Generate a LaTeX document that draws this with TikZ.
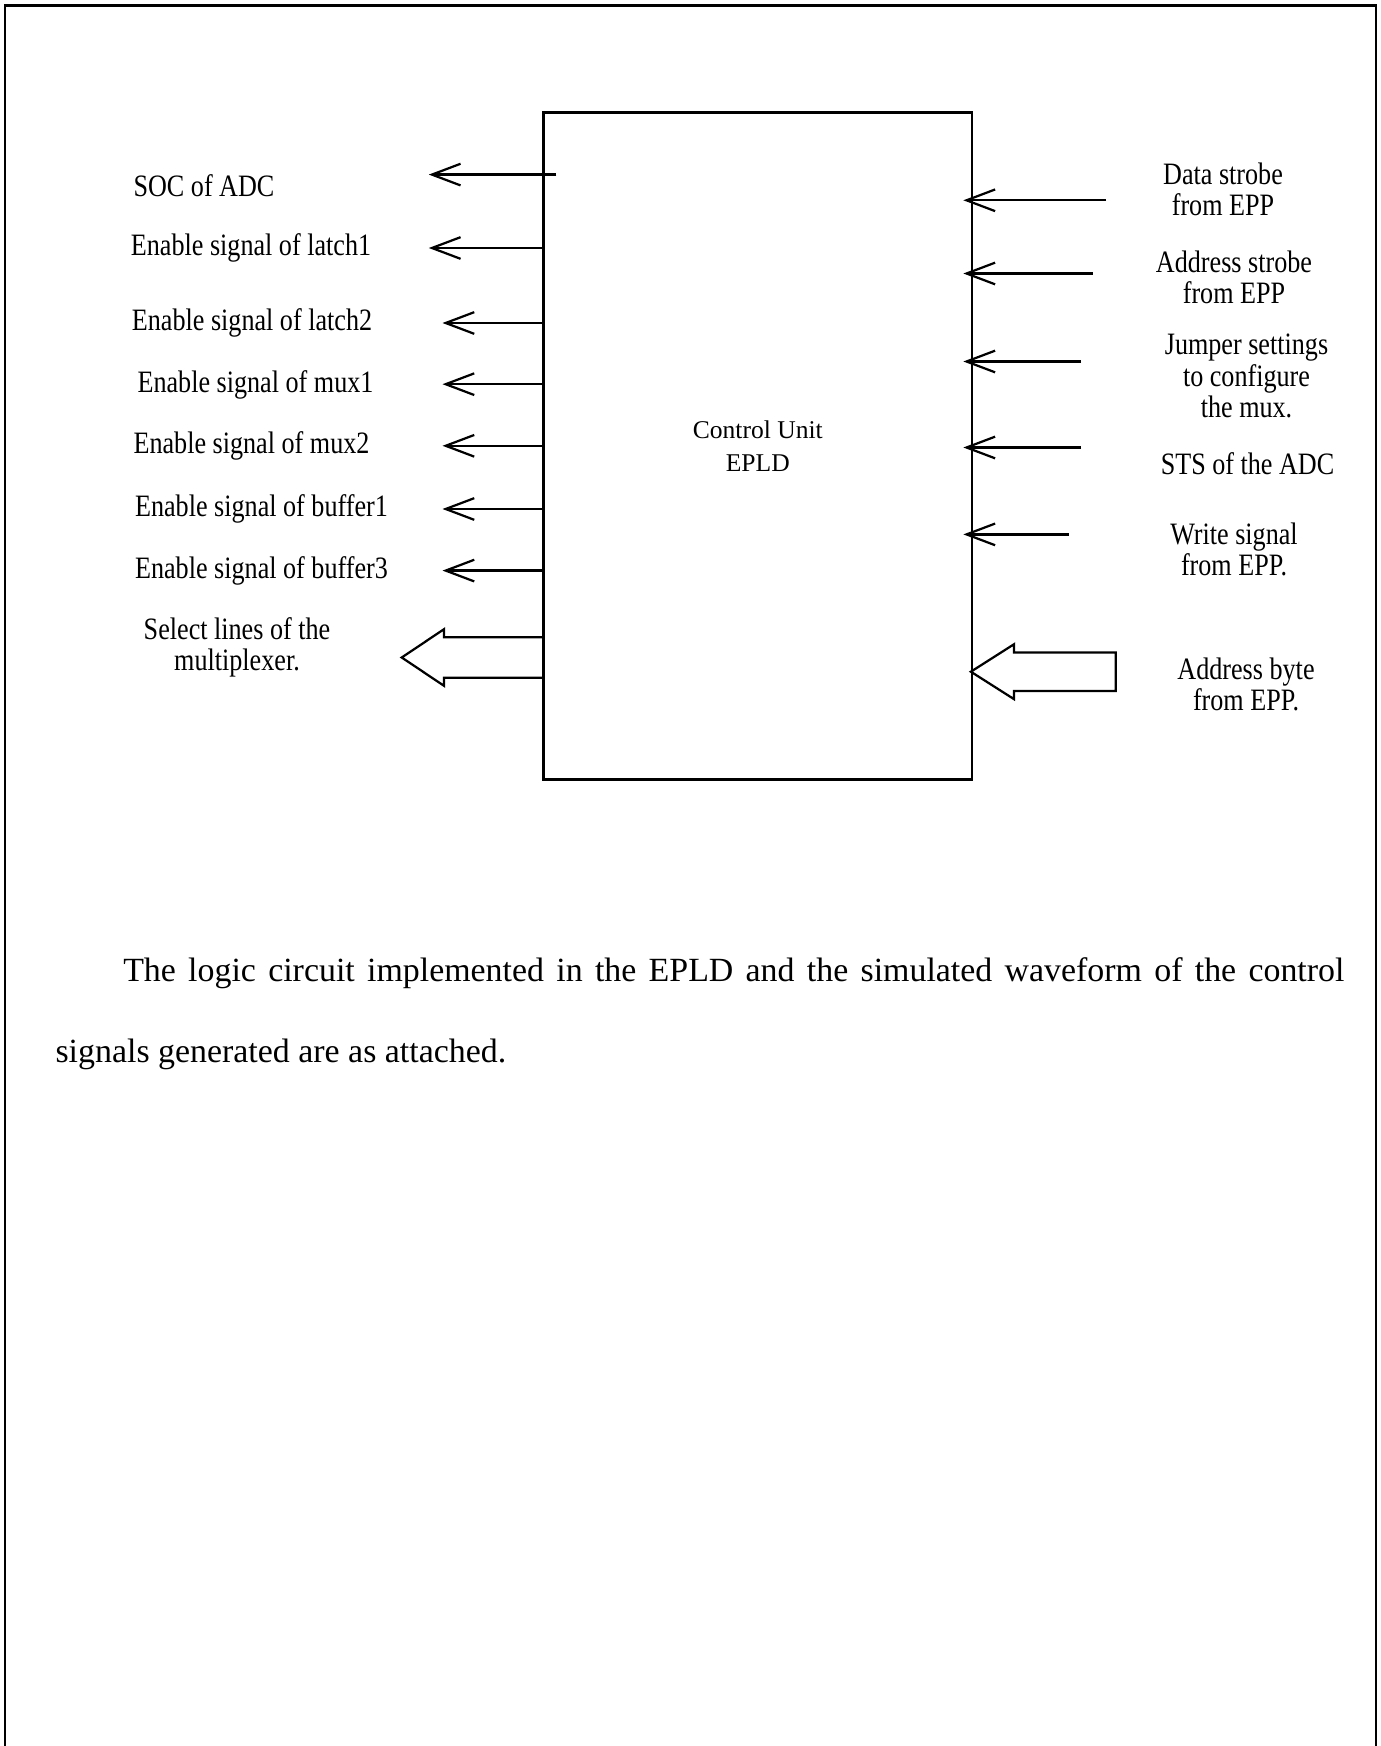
\documentclass[tikz,border=0pt]{standalone}
\usepackage{fontspec}
\setmainfont{Liberation Serif}
\newfontfamily\lblfam[FakeStretch=0.84]{Liberation Serif}
\newcommand{\lblfont}{\lblfam\fontsize{11.2}{11.2}\selectfont}
\newcommand{\unitfont}{\fontsize{9.2}{12.1}\selectfont}
\newcommand{\parafont}{\fontsize{12.2}{14}\selectfont}
\usepackage{tikz}
\usetikzlibrary{positioning,arrows.meta,calc}

\begin{document}
\begin{tikzpicture}[x=0.36pt, y=-0.36pt,
  unit/.style={draw, line width=0.9pt, minimum width=154.3pt, minimum height=240.2pt, inner sep=0pt, font=\unitfont, align=center},
  lbl/.style={font=\lblfont, align=center, inner sep=0pt},
  sig/.style={-{Straight Barb[length=10.3pt,width=7.8pt]}, line width=0.8pt},
  bus/.style={line width=0.8pt, line join=miter},
  frame/.style={line width=0.9pt},
  para/.style={font=\parafont, inner sep=0pt, anchor=base west}]
\useasboundingbox (0,0) rectangle (1381,1746);
\draw[frame] (5,1746) -- (5,5.5) -- (1376,5.5) -- (1376,1746);
\node[unit] (cu) at (757.8,446.1) {Control Unit\\EPLD};
% outputs, left side
\coordinate (socTip) at (428.8,174.6);
\coordinate (lat1Tip) at (428.8,248);
\coordinate (lat2Tip) at (442.5,323);
\coordinate (mux1Tip) at (442.5,384.2);
\coordinate (mux2Tip) at (442.5,445.8);
\coordinate (buf1Tip) at (442.5,509);
\coordinate (buf3Tip) at (442.5,570.6);
\coordinate (selTip) at (401.7,657.5);
\draw[sig] ($(cu.west |- socTip)+(14,0)$) -- (socTip);
\draw[sig] (cu.west |- lat1Tip) -- (lat1Tip);
\draw[sig] (cu.west |- lat2Tip) -- (lat2Tip);
\draw[sig] (cu.west |- mux1Tip) -- (mux1Tip);
\draw[sig] (cu.west |- mux2Tip) -- (mux2Tip);
\draw[sig] (cu.west |- buf1Tip) -- (buf1Tip);
\draw[sig] (cu.west |- buf3Tip) -- (buf3Tip);
\draw[bus] ($(cu.west |- selTip)+(0,-20.2)$) -- ($(selTip)+(42.3,-20.2)$) -- ($(selTip)+(42.3,-28.3)$)
  -- (selTip) -- ($(selTip)+(42.3,28.3)$) -- ($(selTip)+(42.3,20.2)$) -- ($(cu.west |- selTip)+(0,20.2)$);
\node[lbl] (soc) at (204,186) {SOC of ADC};
\node[lbl] (lat1) at (251,248) {Enable signal of latch1};
\node[lbl] (lat2) at (252,323) {Enable signal of latch2};
\node[lbl] (mux1) at (255.5,385) {Enable signal of mux1};
\node[lbl] (mux2) at (251.5,446) {Enable signal of mux2};
\node[lbl] (buf1) at (261.5,509) {Enable signal of buffer1};
\node[lbl] (buf3) at (261.5,571) {Enable signal of buffer3};
\node[lbl] (sel) at (237,647) {Select lines of the\\multiplexer.};
% inputs, right side
\coordinate (dsTail) at (1106,200.3);
\coordinate (asTail) at (1092.6,273.5);
\coordinate (jmpTail) at (1081,361.5);
\coordinate (stsTail) at (1081,447.5);
\coordinate (wrTail) at (1068.5,534.4);
\coordinate (abTail) at (1115.7,671.7);
\draw[sig] (dsTail) -- ($(cu.east |- dsTail)+(-10,0)$);
\draw[sig] (asTail) -- ($(cu.east |- asTail)+(-10,0)$);
\draw[sig] (jmpTail) -- ($(cu.east |- jmpTail)+(-10,0)$);
\draw[sig] (stsTail) -- ($(cu.east |- stsTail)+(-10,0)$);
\draw[sig] (wrTail) -- ($(cu.east |- wrTail)+(-10,0)$);
\coordinate (abTip) at ($(cu.east |- abTail)+(-2.5,0)$);
\draw[bus] (abTip) -- ($(abTip)+(43.2,-27.5)$) -- ($(abTip)+(43.2,-19.3)$) -- ($(abTail)+(0,-19.3)$)
  -- ($(abTail)+(0,19.3)$) -- ($(abTip)+(43.2,19.3)$) -- ($(abTip)+(43.2,27.5)$) -- cycle;
\node[lbl] (ds) at (1223,189.4) {Data strobe\\from EPP};
\node[lbl] (as) at (1234,277.3) {Address strobe\\from EPP};
\node[lbl] (jmp) at (1246.5,376) {Jumper settings\\to configure\\the mux.};
\node[lbl] (sts) at (1247.5,463.3) {STS of the ADC};
\node[lbl] (wr) at (1234,549) {Write signal\\from EPP.};
\node[lbl] (ab) at (1246,684.8) {Address byte\\from EPP.};
% text below the figure
\node[para] (para1) at (122.7,981.7) {\makebox[439.6pt][s]{The logic circuit implemented in the EPLD and the simulated waveform of the control}};
\node[para] (para2) at (55,1062.3) {signals generated are as attached.};
\end{tikzpicture}
\end{document}
